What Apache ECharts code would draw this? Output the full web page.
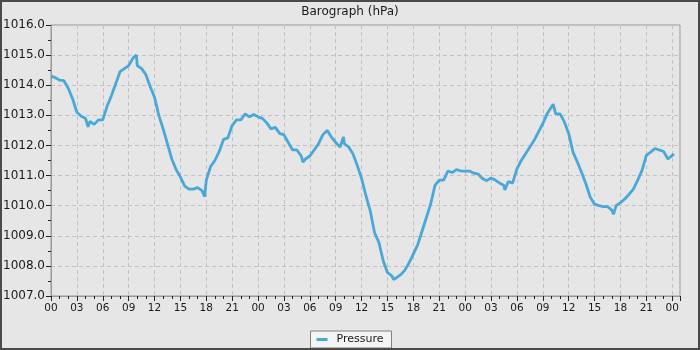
<!DOCTYPE html>
<html>
<head>
<meta charset="utf-8">
<script src="https://cdn.jsdelivr.net/npm/echarts@6/dist/echarts.min.js"></script>
<style>
html,body{margin:0;padding:0;background:#e6e6e6;}
#c{width:700px;height:350px;}
</style>
</head>
<body>
<div id="c"></div>
<script>
// hours since start of record
const hours = [
  0, 0.5, 1, 1.5, 2, 2.5, 3, 3.5, 4, 4.3, 4.5, 5, 5.5, 6, 6.5, 7, 7.5, 8, 8.5, 9, 9.5, 9.9,
  10, 10.5, 11, 11.5, 12, 12.5, 13, 13.5, 14, 14.5, 15, 15.5, 16, 16.5, 17, 17.5, 17.8,
  18, 18.5, 19, 19.5, 20, 20.5, 21, 21.5, 22, 22.5, 23, 23.5,
  24, 24.5, 25, 25.5, 26, 26.5, 27, 27.5, 28, 28.5, 29, 29.2, 29.5, 30, 30.5, 31, 31.5, 32,
  32.5, 33, 33.5, 33.9, 34, 34.5, 35, 35.5, 36, 36.5, 37, 37.5, 38, 38.5, 39, 39.5, 39.7,
  40, 40.5, 41, 41.5, 42, 42.5, 43, 43.5, 44, 44.5, 45, 45.5, 46, 46.5, 47, 47.5,
  48, 48.5, 49, 49.5, 50, 50.5, 51, 51.5, 52, 52.5, 52.6, 53, 53.5, 54, 54.5, 55, 55.5,
  56, 56.5, 57, 57.5, 58, 58.2, 58.5, 59, 59.5, 60, 60.5, 61, 61.5, 62, 62.5, 63, 63.5,
  64, 64.5, 65, 65.2, 65.5, 66, 66.5, 67, 67.5, 68, 68.5, 69, 69.5, 70, 70.5, 71, 71.5, 72, 72.2
];
// pressure (hPa)
const pressure = [
  1014.30, 1014.25, 1014.17, 1014.15, 1013.90, 1013.55, 1013.10, 1012.97, 1012.90, 1012.62, 1012.80, 1012.70, 1012.85, 1012.85, 1013.30, 1013.65, 1014.05, 1014.45, 1014.55, 1014.65, 1014.90, 1015.00,
  1014.65, 1014.55, 1014.35, 1013.95, 1013.60, 1013.00, 1012.55, 1012.05, 1011.55, 1011.20, 1010.95, 1010.65, 1010.55, 1010.55, 1010.60, 1010.50, 1010.30,
  1010.85, 1011.30, 1011.50, 1011.80, 1012.20, 1012.25, 1012.67, 1012.85, 1012.85, 1013.05, 1012.95, 1013.03,
  1012.95, 1012.90, 1012.75, 1012.55, 1012.60, 1012.40, 1012.35, 1012.10, 1011.85, 1011.85, 1011.65, 1011.45, 1011.55, 1011.65, 1011.85, 1012.05, 1012.35, 1012.50,
  1012.28, 1012.10, 1011.95, 1012.28, 1012.05, 1011.95, 1011.72, 1011.33, 1010.90, 1010.33, 1009.83, 1009.10, 1008.78, 1008.17, 1007.78, 1007.67, 1007.55,
  1007.60, 1007.70, 1007.85, 1008.10, 1008.40, 1008.70, 1009.15, 1009.60, 1010.05, 1010.67, 1010.85, 1010.85, 1011.15, 1011.10, 1011.20, 1011.15,
  1011.15, 1011.15, 1011.08, 1011.05, 1010.90, 1010.83, 1010.92, 1010.85, 1010.75, 1010.67, 1010.52, 1010.80, 1010.75, 1011.22, 1011.50, 1011.72, 1011.95,
  1012.17, 1012.45, 1012.72, 1013.05, 1013.28, 1013.37, 1013.05, 1013.05, 1012.78, 1012.40, 1011.78, 1011.45, 1011.10, 1010.72, 1010.28, 1010.05, 1010.00,
  1009.97, 1009.97, 1009.85, 1009.72, 1010.00, 1010.10, 1010.22, 1010.38, 1010.55, 1010.85, 1011.17, 1011.67, 1011.78, 1011.90, 1011.85, 1011.80, 1011.55, 1011.67, 1011.72
];
const xTickLabels = ['00','03','06','09','12','15','18','21','00','03','06','09','12','15','18','21','00','03','06','09','12','15','18','21','00'];
const titleText = 'Barograph (hPa)';
const seriesName = 'Pressure';

const data = hours.map((h, i) => [h, pressure[i]]);
const FONT = 'DejaVu Sans';
const chart = echarts.init(document.getElementById('c'), null, {renderer: 'canvas'});
chart.setOption({
  backgroundColor: '#e6e6e6',
  animation: false,
  title: {
    text: titleText, left: 'center', top: 6, padding: 0,
    textStyle: {fontFamily: FONT, fontSize: 12, fontWeight: 'normal', color: '#1a1a1a'}
  },
  legend: {
    data: [seriesName], bottom: 2, left: 'center',
    padding: [3, 8, 3, 6], itemGap: 5,
    backgroundColor: '#f4f4f4', borderColor: '#808080', borderWidth: 1, borderRadius: 0,
    icon: 'rect', itemWidth: 11, itemHeight: 3,
    textStyle: {fontFamily: FONT, fontSize: 11, color: '#1a1a1a', padding: [0, 0, 0, 4]}
  },
  grid: {left: 50, top: 25, right: 20, bottom: 54, show: true, borderColor: '#999', borderWidth: 1, backgroundColor: '#e6e6e6'},
  xAxis: {
    type: 'value', min: 0, max: 72.9, interval: 3,
    axisLine: {show: true, lineStyle: {color: '#999'}},
    axisTick: {show: true, length: 5, lineStyle: {color: '#222'}},
    minorTick: {show: true, splitNumber: 3, length: 3, lineStyle: {color: '#222'}},
    splitLine: {show: true, lineStyle: {color: '#c2c2c2', type: [4, 3], width: 1}},
    axisLabel: {
      fontFamily: FONT, fontSize: 10.5, color: '#1a1a1a', margin: 7, showMaxLabel: false,
      formatter: v => {
        const k = Math.round(v / 3);
        if (Math.abs(v - k * 3) > 1e-6) return '';
        return xTickLabels[k] !== undefined ? xTickLabels[k] : '';
      }
    }
  },
  yAxis: {
    type: 'value', min: 1007, max: 1016, interval: 1,
    axisLine: {show: true, lineStyle: {color: '#999'}},
    axisTick: {show: true, length: 5, lineStyle: {color: '#222'}},
    minorTick: {show: true, splitNumber: 2, length: 3, lineStyle: {color: '#222'}},
    splitLine: {show: true, lineStyle: {color: '#c2c2c2', type: [4, 3], width: 1}},
    axisLabel: {fontFamily: FONT, fontSize: 12, color: '#1a1a1a', margin: 6, formatter: v => v.toFixed(1)}
  },
  series: [{
    name: seriesName, type: 'line', data: data, showSymbol: false, symbol: 'none',
    lineStyle: {color: '#4aa8d8', width: 2.8}, itemStyle: {color: '#4aa8d8'}
  }],
  graphic: [{
    type: 'rect', silent: true, z: 100,
    shape: {x: 1, y: 1, width: 698, height: 348},
    style: {fill: 'none', stroke: '#4a4a4a', lineWidth: 2}
  }]
});
</script>
</body>
</html>
